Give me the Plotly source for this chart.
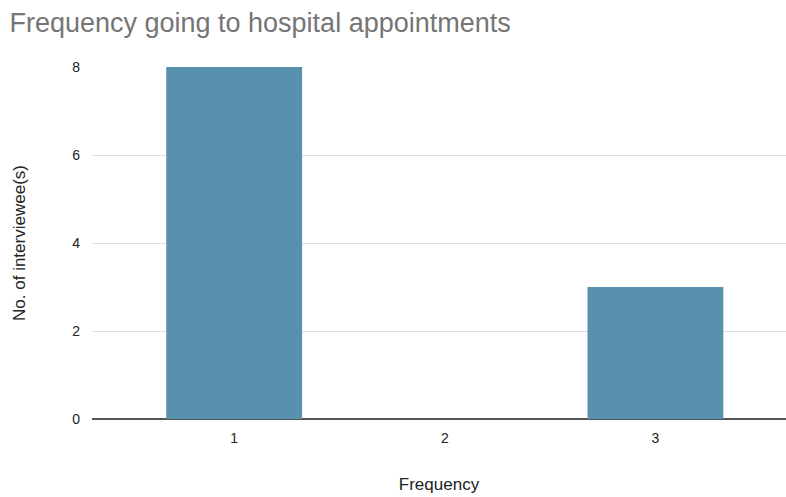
import plotly.graph_objects as go

categories = ["1", "2", "3"]
counts = [8, 0, 3]
y_ticks = [0, 2, 4, 6, 8]

FONT = "Liberation Sans, Arial, sans-serif"

fig = go.Figure(go.Bar(
    x=categories, y=counts,
    marker=dict(color="#5890ae", line=dict(width=0)),
    width=0.645,
))

fig.update_layout(
    width=786, height=497,
    margin=dict(l=92, r=0, t=67, b=78),
    paper_bgcolor="white", plot_bgcolor="white",
    font=dict(family=FONT, size=14, color="#222222"),
    title=dict(text="Frequency going to hospital appointments",
               x=0.012, xanchor="left", y=0.954, yanchor="middle",
               font=dict(size=27, color="#757575", family=FONT)),
    showlegend=False,
)
fig.update_xaxes(
    type="category", range=[-0.675, 2.62],
    showgrid=False, showline=False, zeroline=False,
    ticks="", ticklabelstandoff=9,
    title=dict(text="Frequency", standoff=33, font=dict(size=17, color="#222222")),
)
fig.update_yaxes(
    range=[0, 8], tickvals=y_ticks,
    showgrid=True, gridcolor="#dddddd", gridwidth=1,
    zeroline=True, zerolinecolor="#555555", zerolinewidth=1.5,
    showline=False, ticks="", ticklabelstandoff=11,
    title=dict(text="No. of interviewee(s)", standoff=42, font=dict(size=17, color="#222222")),
)

fig.write_html("out.html")
